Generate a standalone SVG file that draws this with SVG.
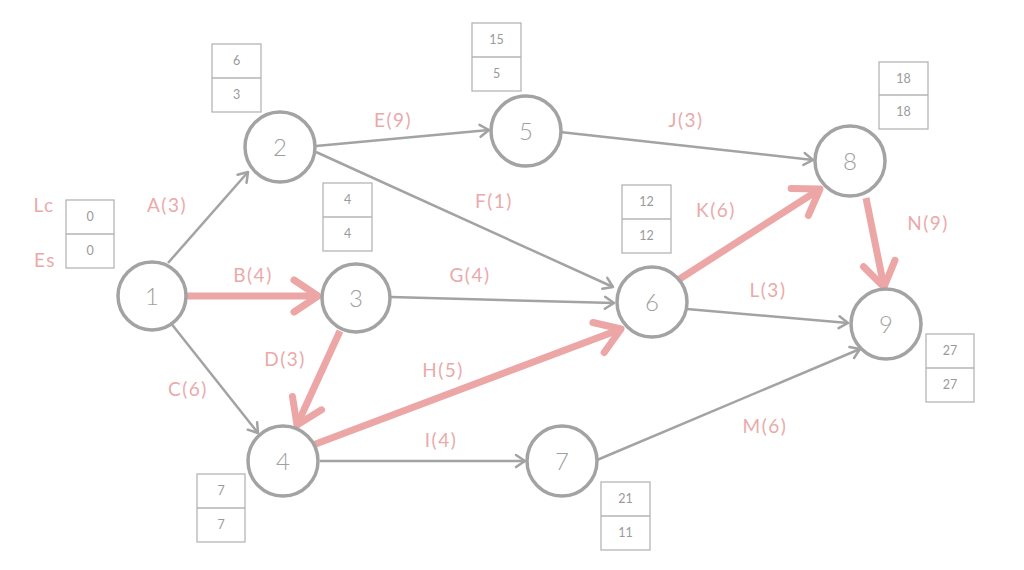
<svg xmlns="http://www.w3.org/2000/svg" width="1024" height="570" viewBox="0 0 1024 570">
<style>
.node circle{fill:#fff;stroke:#a3a3a3;stroke-width:3.5}
.num{font-family:Lato,"Open Sans",sans-serif;font-size:24px;font-weight:300;fill:#a0a0a0;text-anchor:middle}
.box rect{fill:#fff;stroke:#b5b5b5;stroke-width:1.3}
.box line{stroke:#b5b5b5;stroke-width:1.3}
.bt{font-family:Lato,"Open Sans",sans-serif;font-size:12.5px;fill:#9a9a9a;text-anchor:middle}
.lbl{font-family:Lato,"Open Sans",sans-serif;font-size:19px;fill:#eaaaaa;text-anchor:middle;letter-spacing:1.5px}
.e{stroke:#a3a3a3;stroke-width:2.5;fill:none;marker-end:url(#ag)}
.c{stroke:#eca6a6;stroke-width:7;fill:none;marker-end:url(#ap)}
</style>
<defs>
<marker id="ag" markerUnits="userSpaceOnUse" markerWidth="16" markerHeight="16" viewBox="0 0 16 16" refX="14" refY="8" orient="auto">
<path d="M5,2 L14,8 L5,14" fill="none" stroke="#a3a3a3" stroke-width="2.5" stroke-linecap="round" stroke-linejoin="round"/>
</marker>
<marker id="ap" markerUnits="userSpaceOnUse" markerWidth="36" markerHeight="40" viewBox="0 0 36 40" refX="32" refY="20" orient="auto">
<path d="M8,4 L32,20 L8,36" fill="none" stroke="#eca6a6" stroke-width="7" stroke-linecap="round" stroke-linejoin="round"/>
</marker>
</defs>
<rect width="1024" height="570" fill="#fff"/>
<g id="connectors">
<line class="e" x1="168" y1="263" x2="248" y2="172"/>
<line class="e" x1="316" y1="146" x2="489" y2="130"/>
<line class="e" x1="316" y1="152" x2="613" y2="287"/>
<line class="e" x1="391" y1="297" x2="614" y2="303"/>
<line class="e" x1="560" y1="132" x2="813" y2="160"/>
<line class="e" x1="687" y1="309" x2="848" y2="323"/>
<line class="e" x1="597" y1="460" x2="860" y2="349"/>
<line class="e" x1="170" y1="322" x2="258" y2="433"/>
<line class="e" x1="320" y1="461" x2="525" y2="461"/>
<line class="c" x1="186" y1="296" x2="318" y2="296"/>
<line class="c" x1="340" y1="331" x2="297" y2="425"/>
<line class="c" x1="313" y1="445" x2="621" y2="329"/>
<line class="c" x1="678" y1="280" x2="820" y2="189"/>
<line class="c" x1="866" y1="198" x2="884" y2="287"/>
</g>
<g id="labels">
<text class="lbl" x="167" y="212">A(3)</text>
<text class="lbl" x="253" y="282">B(4)</text>
<text class="lbl" x="188" y="396">C(6)</text>
<text class="lbl" x="285" y="366">D(3)</text>
<text class="lbl" x="393" y="127">E(9)</text>
<text class="lbl" x="494" y="208">F(1)</text>
<text class="lbl" x="470" y="282">G(4)</text>
<text class="lbl" x="443" y="377">H(5)</text>
<text class="lbl" x="441" y="447">I(4)</text>
<text class="lbl" x="686" y="127">J(3)</text>
<text class="lbl" x="716" y="217">K(6)</text>
<text class="lbl" x="768" y="297">L(3)</text>
<text class="lbl" x="765" y="433">M(6)</text>
<text class="lbl" x="928" y="230">N(9)</text>
<text class="lbl" x="44" y="212">Lc</text>
<text class="lbl" x="45" y="267">Es</text>
</g>
<g id="node1" class="node"><circle cx="152" cy="296" r="34"/><text class="num" x="152" y="305">1</text></g>
<g id="node2" class="node"><circle cx="280" cy="147" r="35"/><text class="num" x="280" y="156">2</text></g>
<g id="node3" class="node"><circle cx="356" cy="298" r="34"/><text class="num" x="356" y="307">3</text></g>
<g id="node4" class="node"><circle cx="283" cy="461" r="35"/><text class="num" x="283" y="470">4</text></g>
<g id="node5" class="node"><circle cx="526" cy="131" r="35"/><text class="num" x="526" y="140">5</text></g>
<g id="node6" class="node"><circle cx="652" cy="302" r="35"/><text class="num" x="652" y="311">6</text></g>
<g id="node7" class="node"><circle cx="562" cy="461" r="35"/><text class="num" x="562" y="470">7</text></g>
<g id="node8" class="node"><circle cx="850" cy="161" r="35"/><text class="num" x="850" y="170">8</text></g>
<g id="node9" class="node"><circle cx="886" cy="324" r="35"/><text class="num" x="886" y="333">9</text></g>
<g id="box1" class="box"><rect x="66" y="200" width="48" height="68"/><line x1="66" y1="234" x2="114" y2="234"/><text class="bt" x="90" y="221">0</text><text class="bt" x="90" y="255">0</text></g>
<g id="box2" class="box"><rect x="212" y="44" width="49" height="68"/><line x1="212" y1="78" x2="261" y2="78"/><text class="bt" x="236.5" y="65">6</text><text class="bt" x="236.5" y="99">3</text></g>
<g id="box3" class="box"><rect x="323" y="183" width="49" height="68"/><line x1="323" y1="217" x2="372" y2="217"/><text class="bt" x="347.5" y="204">4</text><text class="bt" x="347.5" y="238">4</text></g>
<g id="box4" class="box"><rect x="197" y="474" width="48" height="68"/><line x1="197" y1="508" x2="245" y2="508"/><text class="bt" x="221" y="495">7</text><text class="bt" x="221" y="529">7</text></g>
<g id="box5" class="box"><rect x="472" y="23" width="49" height="68"/><line x1="472" y1="57" x2="521" y2="57"/><text class="bt" x="496.5" y="44">15</text><text class="bt" x="496.5" y="78">5</text></g>
<g id="box6" class="box"><rect x="622" y="185" width="49" height="68"/><line x1="622" y1="219" x2="671" y2="219"/><text class="bt" x="646.5" y="206">12</text><text class="bt" x="646.5" y="240">12</text></g>
<g id="box7" class="box"><rect x="601" y="482" width="49" height="68"/><line x1="601" y1="516" x2="650" y2="516"/><text class="bt" x="625.5" y="503">21</text><text class="bt" x="625.5" y="537">11</text></g>
<g id="box8" class="box"><rect x="879" y="62" width="49" height="67"/><line x1="879" y1="95" x2="928" y2="95"/><text class="bt" x="903.5" y="83">18</text><text class="bt" x="903.5" y="116">18</text></g>
<g id="box9" class="box"><rect x="926" y="334" width="48" height="68"/><line x1="926" y1="368" x2="974" y2="368"/><text class="bt" x="950" y="355">27</text><text class="bt" x="950" y="389">27</text></g>
</svg>
